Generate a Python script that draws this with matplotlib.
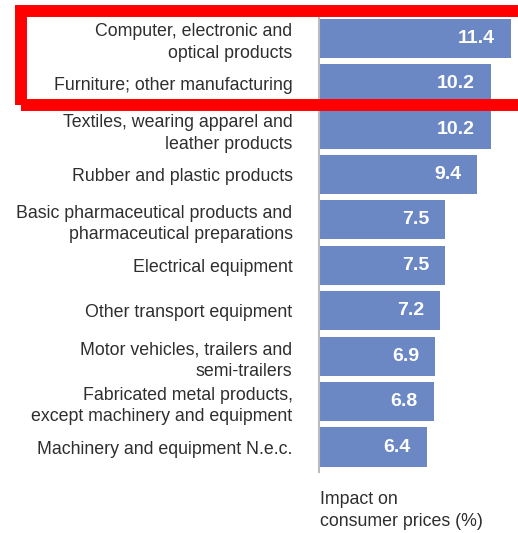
import matplotlib.pyplot as plt
from matplotlib.patches import Rectangle

sectors = [
    "Computer, electronic and\noptical products",
    "Furniture; other manufacturing",
    "Textiles, wearing apparel and\nleather products",
    "Rubber and plastic products",
    "Basic pharmaceutical products and\npharmaceutical preparations",
    "Electrical equipment",
    "Other transport equipment",
    "Motor vehicles, trailers and\nsemi-trailers",
    "Fabricated metal products,\nexcept machinery and equipment",
    "Machinery and equipment N.e.c.",
]
impact = [11.4, 10.2, 10.2, 9.4, 7.5, 7.5, 7.2, 6.9, 6.8, 6.4]

plt.rcParams['font.family'] = ['Liberation Sans', 'DejaVu Sans']

W, H = 518, 533
fig = plt.figure(figsize=(W / 100, H / 100), dpi=100)
ax = fig.add_axes([319 / W, 61 / H, 1 - 319 / W, 457 / H])

pos = list(range(len(impact)))
ax.barh(pos, impact, height=0.86, color="#6b88c4")
ax.set_xlim(0, 199 / 16.84)
ax.set_ylim(9.55, -0.51)

# value labels inside the bar ends
for y, v in zip(pos, impact):
    ax.text(v - 0.95, y, f"{v:.1f}", ha="right", va="center",
            color="white", fontsize=14, fontweight="bold")

ax.set_yticks(pos)
ax.set_yticklabels(sectors, fontsize=12.8, color="#2e2e2e", linespacing=1.35)
ax.tick_params(axis="y", length=0, pad=19)
ax.set_xticks([])
for s in ["top", "right", "bottom"]:
    ax.spines[s].set_visible(False)
ax.spines["left"].set_color("#bbbbbb")
ax.spines["left"].set_linewidth(1.5)

fig.text(320 / W, 1 - 491 / H, "Impact on\nconsumer prices (%)", ha="left", va="top",
         fontsize=12.8, color="#2e2e2e", linespacing=1.35)

# highlight box around the top two rows
fig.patches.append(Rectangle((21 / W, 1 - 105 / H), 1.2, 94 / H, fill=False,
                             edgecolor="#ff0000", linewidth=8.6,
                             transform=fig.transFigure, clip_on=False))

fig.savefig("out.png", dpi=100)
